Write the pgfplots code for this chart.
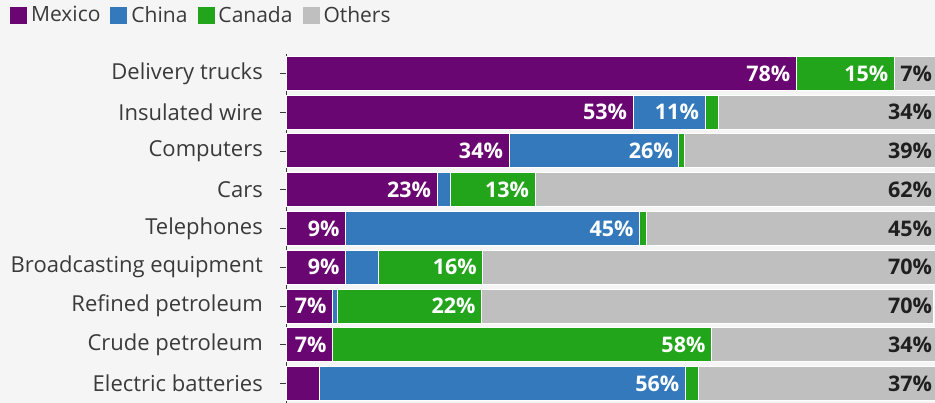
\documentclass[border=0pt]{standalone}
\usepackage{pgfplots}
\pgfplotsset{compat=1.18}
\usepackage{fontspec}
\setmainfont{Open Sans}
\definecolor{mex}{HTML}{6A0671}
\definecolor{chn}{HTML}{3479BC}
\definecolor{can}{HTML}{22A51B}
\definecolor{oth}{HTML}{BFBFBF}
\definecolor{bg}{HTML}{F5F5F5}
\definecolor{txt}{HTML}{3A3A3A}
\begin{document}
\begin{tikzpicture}
\fill[bg] (-287pt,0pt) rectangle (648pt,403pt);
\begin{axis}[
  at={(0pt,0pt)}, anchor=south west,
  width=648pt, height=349pt, scale only axis,
  stack plots=x, bar shift=0pt, bar width=34pt,
  xmin=0, xmax=99.2, ymin=-0.5, ymax=8.5,
  y dir=reverse,
  axis x line=none, axis y line*=left,
  y axis line style={draw=txt, line width=1pt, -},
  ytick={0,...,8},
  yticklabels={Delivery trucks,Insulated wire,Computers,Cars,Telephones,Broadcasting equipment,Refined petroleum,Crude petroleum,Electric batteries},
  yticklabel style={font=\fontsize{22}{24}\selectfont, text=txt, inner sep=0pt, xshift=-17pt},
  tick align=outside, major tick length=7pt,
  ytick style={draw=txt, line width=0.8pt},
  clip=false,
  legend columns=4,
  legend style={draw=none, fill=none, inner sep=0pt, at={(axis description cs:-0.4275,1.1117)}, anchor=west,
    font=\fontsize{21}{23}\selectfont, text=txt,
    nodes={inner sep=0pt},
    /tikz/every odd column/.append style={column sep=4pt},
    /tikz/every even column/.append style={column sep=10pt}},
]
\addplot[xbar, fill=mex, draw=white, line width=1pt, legend image code/.code={\fill[mex] (0pt,-8pt) rectangle (16pt,8pt);}] coordinates {
 (78,0) (53,1) (34,2) (23,3) (9,4) (9,5) (7,6) (7,7) (5,8)};
\addplot[xbar, fill=chn, draw=white, line width=1pt, legend image code/.code={\fill[chn] (0pt,-8pt) rectangle (16pt,8pt);}] coordinates {
 (0,0) (11,1) (26,2) (2,3) (45,4) (5,5) (0.8,6) (0,7) (56,8)};
\addplot[xbar, fill=can, draw=white, line width=1pt, legend image code/.code={\fill[can] (0pt,-8pt) rectangle (16pt,8pt);}] coordinates {
 (15,0) (2,1) (0.8,2) (13,3) (1,4) (16,5) (22,6) (58,7) (2,8)};
\addplot[xbar, fill=oth, draw=white, line width=1pt, legend image code/.code={\fill[oth] (0pt,-8pt) rectangle (16pt,8pt);}] coordinates {
 (7,0) (34,1) (39.2,2) (62,3) (45,4) (70,5) (69.2,6) (35,7) (37,8)};
\legend{Mexico,China,Canada,Others}
% labels at segment ends
\addplot[forget plot, stack plots=false, draw=none, mark=none, point meta=explicit symbolic,
  nodes near coords, every node near coord/.style={anchor=east, inner sep=0pt, xshift=-6pt, font=\bfseries\fontsize{21.5}{23}\selectfont, text=white}]
 coordinates {
 (78,0) [78\%] (93,0) [15\%]
 (53,1) [53\%] (64,1) [11\%]
 (34,2) [34\%] (60,2) [26\%]
 (23,3) [23\%] (38,3) [13\%]
 (9,4) [9\%] (54,4) [45\%]
 (9,5) [9\%] (30,5) [16\%]
 (7,6) [7\%] (29.8,6) [22\%]
 (7,7) [7\%] (65,7) [58\%]
 (61,8) [56\%]};
\addplot[forget plot, stack plots=false, draw=none, mark=none, point meta=explicit symbolic,
  nodes near coords, every node near coord/.style={anchor=east, inner sep=0pt, xshift=-8pt, font=\bfseries\fontsize{21.5}{23}\selectfont, text=black!88}]
 coordinates {
 (100,0) [7\%] (100,1) [34\%] (100,2) [39\%] (100,3) [62\%] (100,4) [45\%]
 (100,5) [70\%] (100,6) [70\%] (100,7) [34\%] (100,8) [37\%]};
\end{axis}
\pgfresetboundingbox
\path[use as bounding box] (-287pt,0pt) rectangle (648pt,403pt);
\end{tikzpicture}
\end{document}
